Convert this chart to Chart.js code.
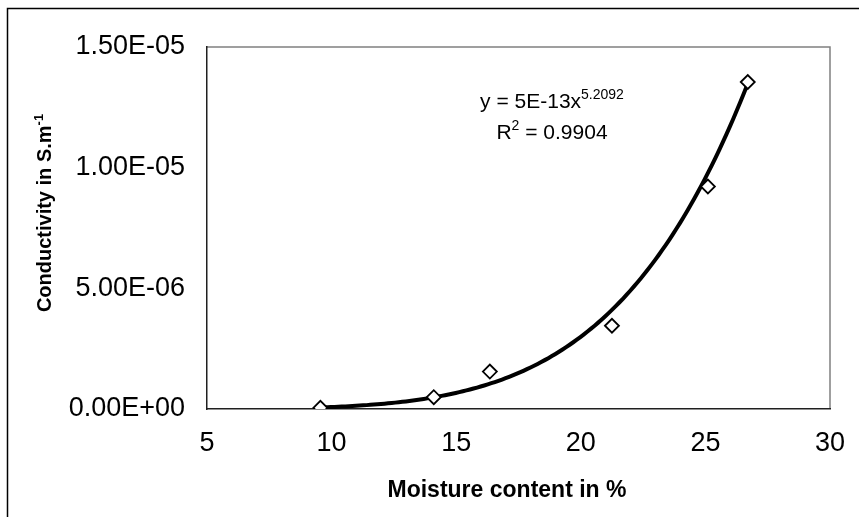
<!DOCTYPE html>
<html>
<head>
<meta charset="utf-8">
<script src="https://cdn.jsdelivr.net/npm/chart.js@4.4.1/dist/chart.umd.min.js"></script>
<style>
html, body { margin: 0; padding: 0; background: #fff; }
#wrap { position: relative; width: 859px; height: 517px; }
</style>
</head>
<body>
<div id="wrap"><canvas id="moistChart" width="859" height="517"></canvas></div>
<script>
// measured points
const moisture = [9.55, 14.1, 16.35, 21.25, 25.1, 26.7];
const conductivity = [0.05e-6, 0.49e-6, 1.55e-6, 3.45e-6, 9.22e-6, 13.55e-6];

// axis ticks
const xTicks = [5, 10, 15, 20, 25, 30];
const yTicks = [0, 5e-6, 1e-5, 1.5e-5];
const yTickLabels = ['0.00E+00', '5.00E-06', '1.00E-05', '1.50E-05'];

// power trendline printed on the chart: y = 5E-13 x^5.2092, R2 = 0.9904
const trendA = 5e-13;
const trendB = 5.2092;
const trendText1 = 'y = 5E-13x';
const trendSup1 = '5.2092';
const trendText2 = 'R';
const trendSup2 = '2';
const trendText3 = ' = 0.9904';

const xTitle = 'Moisture content in %';
const yTitle = 'Conductivity in S.m';
const yTitleSup = '-1';

const FONT = '"Liberation Sans", Arial, sans-serif';

const scatterPts = moisture.map((x, i) => ({ x: x, y: conductivity[i] }));
const trendPts = [];
const x0 = moisture[0], x1 = moisture[moisture.length - 1];
for (let i = 0; i <= 120; i++) {
    const x = x0 + (x1 - x0) * i / 120;
    trendPts.push({ x: x, y: trendA * Math.pow(x, trendB) });
}

// draw text with a raised smaller part
function supText(ctx, parts, cx, cy, big, small) {
    let w = 0;
    parts.forEach(p => {
        ctx.font = (p.bold ? 'bold ' : '') + (p.sup ? small : big) + 'px ' + FONT;
        p.w = ctx.measureText(p.t).width;
        w += p.w;
    });
    let x = cx - w / 2;
    parts.forEach(p => {
        ctx.font = (p.bold ? 'bold ' : '') + (p.sup ? small : big) + 'px ' + FONT;
        ctx.fillText(p.t, x, p.sup ? cy - big * 0.42 : cy);
        x += p.w;
    });
}

const decor = {
    id: 'decor',
    beforeDraw(chart) {
        const ctx = chart.ctx;
        ctx.save();
        ctx.fillStyle = '#fff';
        ctx.fillRect(0, 0, chart.width, chart.height);
        ctx.strokeStyle = '#000';
        ctx.lineWidth = 1.5;
        ctx.beginPath();
        ctx.moveTo(7.5, chart.height);
        ctx.lineTo(7.5, 8.5);
        ctx.lineTo(chart.width, 8.5);
        ctx.stroke();
        const a = chart.chartArea;
        ctx.strokeStyle = '#808080';
        ctx.lineWidth = 1.5;
        ctx.beginPath();
        ctx.moveTo(a.left, a.top);
        ctx.lineTo(a.right, a.top);
        ctx.lineTo(a.right, a.bottom);
        ctx.stroke();
        ctx.restore();
    },
    afterDraw(chart) {
        const ctx = chart.ctx;
        ctx.save();
        ctx.fillStyle = '#000';
        ctx.textBaseline = 'alphabetic';
        // equation
        supText(ctx, [{ t: trendText1 }, { t: trendSup1, sup: true }], 552, 108, 21, 14);
        supText(ctx, [{ t: trendText2 }, { t: trendSup2, sup: true }, { t: trendText3 }], 552, 139, 21, 14);
        // x title
        supText(ctx, [{ t: xTitle, bold: true }], 507, 497, 23);
        // y title
        ctx.translate(51, 213);
        ctx.rotate(-Math.PI / 2);
        supText(ctx, [{ t: yTitle, bold: true }, { t: yTitleSup, bold: true, sup: true }], 0, 0, 20, 13);
        ctx.restore();
    }
};

const ctx = document.getElementById('moistChart').getContext('2d');
const moistChart = new Chart(ctx, {
    type: 'scatter',
    data: {
        datasets: [{
            label: 'Conductivity',
            data: scatterPts,
            pointStyle: 'rectRot',
            pointRadius: 7,
            pointHoverRadius: 7,
            pointBackgroundColor: '#fff',
            pointBorderColor: '#000',
            pointBorderWidth: 1.8,
            showLine: false,
            order: 1
        }, {
            label: 'Power trend',
            data: trendPts,
            showLine: true,
            borderColor: '#000',
            borderWidth: 4,
            pointRadius: 0,
            tension: 0,
            order: 2
        }]
    },
    options: {
        responsive: false,
        animation: false,
        devicePixelRatio: 1,
        layout: { padding: { left: 0, top: 47, right: 29, bottom: 0 } },
        plugins: { legend: { display: false }, tooltip: { enabled: false } },
        scales: {
            x: {
                type: 'linear',
                min: 5,
                max: 30,
                afterBuildTicks: s => { s.ticks = xTicks.map(v => ({ value: v })); },
                afterFit: s => { s.height = 108; },
                grid: { display: false, drawOnChartArea: false, drawTicks: true, tickLength: 8, tickColor: '#404040' },
                border: { display: true, color: '#202020', width: 1.5 },
                ticks: { color: '#000', padding: 10, font: { family: FONT, size: 27 } }
            },
            y: {
                type: 'linear',
                min: 0,
                max: 1.5e-5,
                afterBuildTicks: s => { s.ticks = yTicks.map(v => ({ value: v })); },
                afterFit: s => { s.width = 207; },
                grid: { display: false, drawOnChartArea: false, drawTicks: true, tickLength: 8, tickColor: '#404040' },
                border: { display: true, color: '#202020', width: 1.5 },
                ticks: {
                    color: '#000',
                    padding: 14,
                    font: { family: FONT, size: 27 },
                    callback: (v, i) => yTickLabels[i]
                }
            }
        }
    },
    plugins: [decor]
});
</script>
</body>
</html>
